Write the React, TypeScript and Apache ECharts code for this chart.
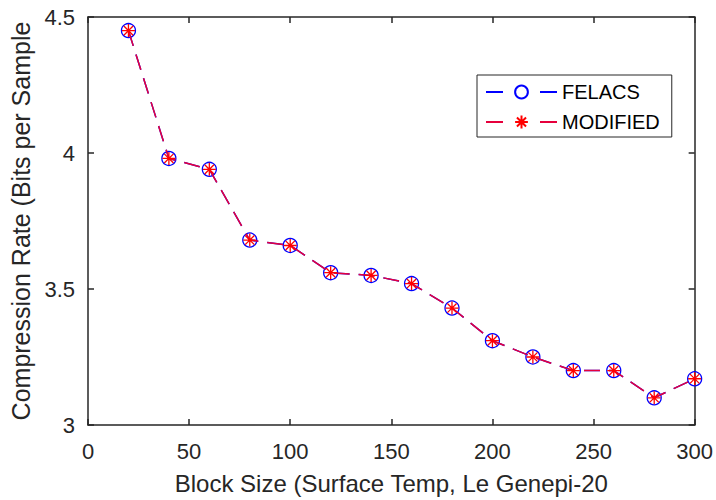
import React, { useEffect, useRef } from "react";
import * as echarts from "echarts";

const blockSizes = [20, 40, 60, 80, 100, 120, 140, 160, 180, 200, 220, 240, 260, 280, 300];
const felacs = [4.45, 3.98, 3.94, 3.68, 3.66, 3.56, 3.55, 3.52, 3.43, 3.31, 3.25, 3.2, 3.2, 3.1, 3.17];
const modified = [4.45, 3.98, 3.94, 3.68, 3.66, 3.56, 3.55, 3.52, 3.43, 3.31, 3.25, 3.2, 3.2, 3.1, 3.17];
const seriesNames = ["FELACS", "MODIFIED"];
const xName = "Block Size (Surface Temp, Le Genepi-20";
const yName = "Compression Rate (Bits per Sample";

const FONT = "'Liberation Sans', Arial, sans-serif";
const AX = "#262626";
const ASTERISK = "path://M5,0L5,10M0,5L10,5M1.46,1.46L8.54,8.54M1.46,8.54L8.54,1.46";

export default function App() {
  const ref = useRef<HTMLDivElement>(null);
  useEffect(() => {
    if (!ref.current) return;
    const chart = echarts.init(ref.current, null, { renderer: "svg" });
    const axisCommon = {
      axisLine: { show: true, onZero: false, lineStyle: { color: AX, width: 1.5 } },
      axisTick: { show: true, inside: true, length: 6, lineStyle: { color: AX, width: 1.5 } },
      splitLine: { show: false },
    };
    chart.setOption({
      animation: false,
      backgroundColor: "#fff",
      grid: { left: 86, right: 18, top: 17, bottom: 73, containLabel: false },
      xAxis: [
        {
          type: "value", min: 0, max: 300, interval: 50, position: "bottom",
          ...axisCommon,
          axisLabel: { color: AX, fontSize: 22, fontFamily: FONT, margin: 15 },
          name: xName, nameLocation: "middle", nameGap: 46,
          nameTextStyle: { color: AX, fontSize: 24, fontFamily: FONT },
        },
        {
          type: "value", min: 0, max: 300, interval: 50, position: "top",
          ...axisCommon, axisLabel: { show: false },
        },
      ],
      yAxis: [
        {
          type: "value", min: 3, max: 4.5, interval: 0.5, position: "left",
          ...axisCommon,
          axisLabel: { color: AX, fontSize: 22, fontFamily: FONT, margin: 13 },
          name: yName, nameLocation: "middle", nameGap: 55,
          nameTextStyle: { color: AX, fontSize: 25, fontFamily: FONT },
        },
        {
          type: "value", min: 3, max: 4.5, interval: 0.5, position: "right",
          ...axisCommon, axisLabel: { show: false },
        },
      ],
      legend: {
        left: 477, top: 75, orient: "vertical",
        data: seriesNames,
        itemWidth: 71, itemHeight: 16, itemGap: 10,
        padding: [7, 12, 5, 8],
        borderColor: AX, borderWidth: 1, borderRadius: 0,
        backgroundColor: "#fff",
        textStyle: { color: "#000", fontSize: 20, fontFamily: FONT },
        lineStyle: { type: [17, 37] },
      },
      series: [
        {
          name: seriesNames[0], type: "line",
          data: blockSizes.map((x, i) => [x, felacs[i]]),
          symbol: "circle", symbolSize: 14,
          itemStyle: { color: "rgba(0,0,0,0)", borderColor: "#0000ff", borderWidth: 1.3 },
          lineStyle: { color: "#0000ff", width: 1.5, type: [16, 9] },
          z: 2,
        },
        {
          name: seriesNames[1], type: "line",
          data: blockSizes.map((x, i) => [x, modified[i]]),
          symbol: ASTERISK, symbolSize: 13,
          itemStyle: { color: "rgba(0,0,0,0)", borderColor: "#ff0000", borderWidth: 1.3 },
          lineStyle: { color: "#e6003c", width: 1.5, type: [16, 9] },
          z: 3,
        },
      ],
    });
    return () => chart.dispose();
  }, []);
  return (
    <div
      ref={ref}
      style={{ position: "fixed", left: 0, top: 0, width: 716, height: 500 }}
    />
  );
}
